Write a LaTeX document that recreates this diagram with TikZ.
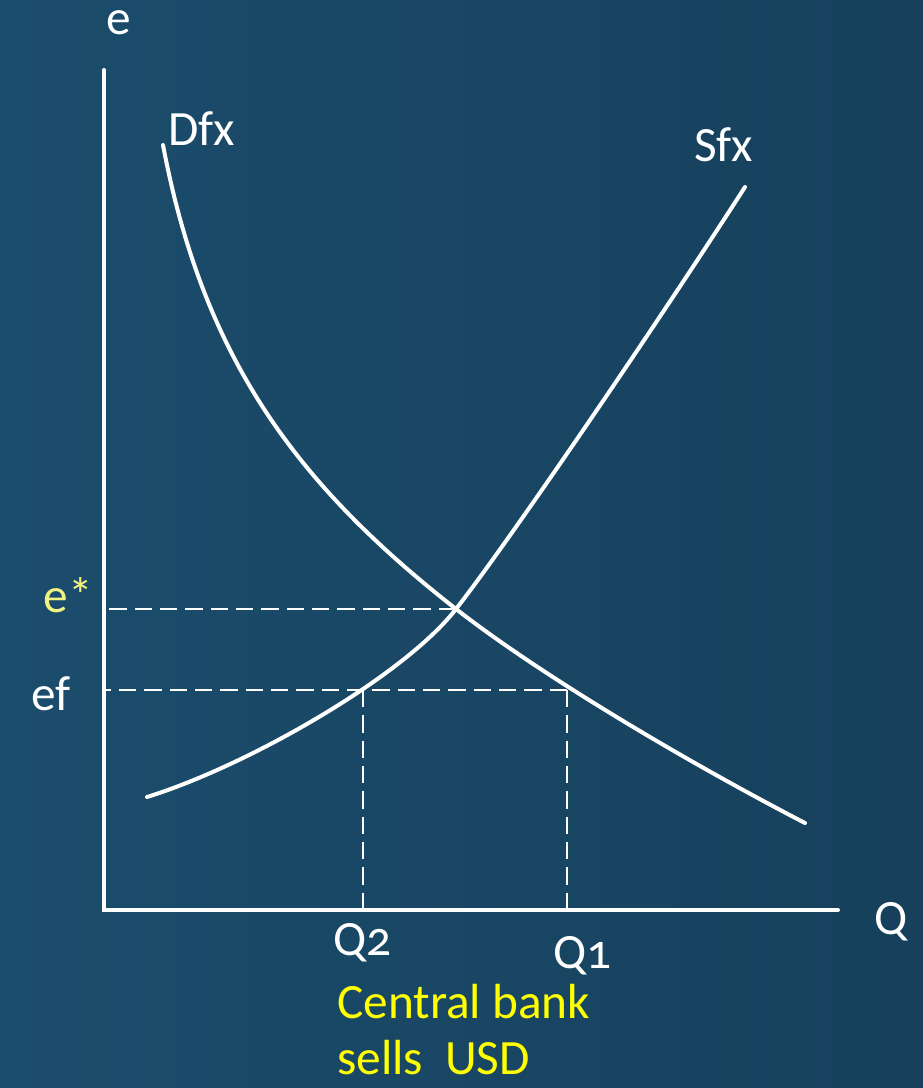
\documentclass[tikz,border=0pt]{standalone}
\usepackage{fontspec}
\setmainfont{Carlito}[Numbers=OldStyle]
\definecolor{bgA}{RGB}{27,77,108}
\definecolor{bgB}{RGB}{22,64,92}
\definecolor{paleY}{RGB}{242,242,130}
\definecolor{brightY}{RGB}{255,255,0}
\begin{document}
\begin{tikzpicture}[x=0.75pt,y=-0.75pt,
  lbl/.style={inner sep=0pt,text=white,font=\fontsize{37}{40}\selectfont},
  axisline/.style={draw=white,line width=3pt,line cap=round},
  curve/.style={draw=white,line width=3pt,line cap=round},
  guide/.style={draw=white,line width=1.5pt,dash pattern=on 13pt off 6pt}]
\useasboundingbox (0,0) rectangle (923,1088);
\shade[shading=axis,shading angle=60,left color=bgA,right color=bgB] (0,0) rectangle (923,1088);
% axes
\coordinate (O) at (104,910);
\coordinate (ytop) at (104,70);
\coordinate (xend) at (838,910);
% key points
\coordinate (E) at (456,609);
\coordinate (A) at (363,690);
\coordinate (B) at (567,690);
\coordinate (D0) at (163,145);
\coordinate (D1) at (805,823);
\coordinate (S0) at (147,797);
\coordinate (S1) at (745,187);
% guides
\draw[guide] (E) -- (E -| O);
\draw[guide] (B) -- (B -| O);
\draw[guide] (A) -- (A |- O);
\draw[guide] (B) -- (B |- O);
% curves
\draw[curve] (D0) .. controls (204,362) and (300,487) .. (E)
                  .. controls (546,679) and (695,766) .. (D1);
\draw[curve] (S0) .. controls (250,765) and (405,675) .. (E)
                  .. controls (507,544) and (655,327) .. (S1);
\draw[axisline] (ytop) -- (O) -- (xend);
% labels
\node[lbl,anchor=base] (le) at (119,35) {e};
\node[lbl,anchor=base west] (ld) at (168,145) {Dfx};
\node[lbl,anchor=base west] (ls) at (694,161) {Sfx};
\node[lbl,anchor=base east,text=paleY] (lestar) at (93,612) {e*};
\node[lbl,anchor=base east] (lef) at (71,710) {ef};
\node[lbl,anchor=base west] (lq) at (874,934) {Q};
\node[lbl,anchor=base west] (lq2) at (333,955) {Q2};
\node[lbl,anchor=base west] (lq1) at (553,968) {Q1};
\node[lbl,anchor=base west,text=brightY] (lcb) at (337,1018) {Central bank};
\node[lbl,anchor=base west,text=brightY] (lsu) at (337,1074) {sells\ \ USD};
\end{tikzpicture}
\end{document}
